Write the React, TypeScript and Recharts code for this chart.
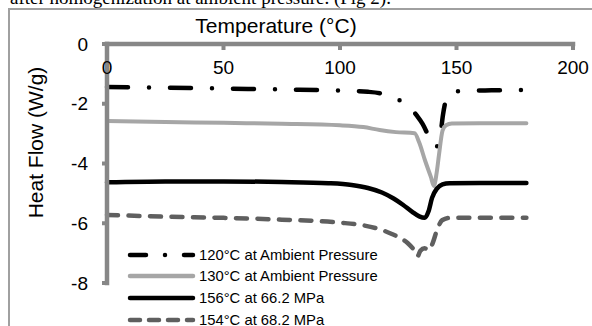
import { LineChart, Line, XAxis, YAxis, Legend, Label } from "recharts";

const font = "'Liberation Sans', Arial, sans-serif";
const axisGray = "#878787";

const xTicks = [0, 50, 100, 150, 200];
const yTicks = [0, -2, -4, -6, -8];

// [temperature °C, heat flow W/g]
const ambient120: [number, number][] = [
  [0, -1.44], [25, -1.46], [50, -1.49], [75, -1.52], [100, -1.56], [112, -1.6],
  [118, -1.66], [122, -1.75], [126, -1.9], [130, -2.12], [133, -2.4], [135.5, -2.68],
  [139, -3.24], [141, -3.47], [143, -3.08], [144.2, -2.37], [145.2, -1.95],
  [146.5, -1.72], [149, -1.61], [153, -1.57], [165, -1.55], [180, -1.54],
];

const ambient130: [number, number][] = [
  [0, -2.58], [25, -2.61], [50, -2.64], [75, -2.67], [100, -2.72], [110, -2.78],
  [117, -2.88], [124, -2.95], [132, -2.99], [134, -3.3], [136.5, -3.9], [139, -4.45],
  [140.3, -4.75], [141.5, -4.3], [142.5, -3.7], [144, -2.9], [145.5, -2.72],
  [148, -2.66], [160, -2.65], [180, -2.65],
];

const mpa662: [number, number][] = [
  [0, -4.63], [25, -4.6], [50, -4.6], [75, -4.62], [95, -4.66], [105, -4.72],
  [112, -4.82], [118, -4.97], [123, -5.17], [127, -5.38], [131, -5.62], [134, -5.77],
  [136.3, -5.82], [138, -5.6], [139.5, -5.15], [141.5, -4.85], [144, -4.7],
  [147, -4.66], [160, -4.65], [180, -4.65],
];

const mpa682: [number, number][] = [
  [0, -5.72], [25, -5.78], [50, -5.82], [75, -5.88], [100, -5.98], [110, -6.07],
  [117, -6.2], [122, -6.35], [126, -6.5], [129, -6.66], [131.3, -6.85], [133.3, -7.1],
  [134.5, -6.92], [136.3, -6.84], [138.3, -6.9], [139.5, -6.72], [142, -6.15],
  [143.8, -5.9], [147, -5.82], [160, -5.82], [180, -5.82],
];

const toPoints = (rows: [number, number][]) => rows.map(([t, hf]) => ({ t, hf }));

const series = [
  { name: "120°C at Ambient Pressure", rows: ambient120, color: "#000", width: 4.5, dash: "21 21 0 21", legendDash: "16 19 0 19" },
  { name: "130°C at Ambient Pressure", rows: ambient130, color: "#a6a6a6", width: 4, dash: undefined, legendDash: undefined },
  { name: "156°C at 66.2 MPa", rows: mpa662, color: "#000", width: 4.5, dash: undefined, legendDash: undefined },
  { name: "154°C at 68.2 MPa", rows: mpa682, color: "#5f5f5f", width: 4.5, dash: "11 10.5", legendDash: "10 9" },
];

const renderLegend = () => (
  <div>
    {series.map((s) => (
      <div key={s.name} style={{ display: "flex", alignItems: "center", height: 21.6 }}>
        <svg width={73} height={10}>
          <line x1={4} x2={67} y1={5} y2={5} stroke={s.color} strokeWidth={4.5}
            strokeDasharray={s.legendDash} strokeLinecap="round" />
        </svg>
        <span style={{ fontSize: 14.8, fontFamily: font, color: "#000", whiteSpace: "nowrap" }}>{s.name}</span>
      </div>
    ))}
  </div>
);

export default function App() {
  return (
    <div style={{ position: "absolute", left: 0, top: 0, width: 592, height: 326, overflow: "hidden", background: "#fff" }}>
      <div style={{ position: "absolute", left: 10, top: -11, fontFamily: "'Liberation Serif', 'Times New Roman', serif", fontSize: 19, lineHeight: "18px", whiteSpace: "nowrap", color: "#000" }}>
        after homogenization at ambient pressure. (Fig 2).
      </div>
      <div style={{ position: "absolute", left: 8, top: 8, width: 700, height: 400, borderTop: "2px solid #a0a0a0", borderLeft: "2px solid #a0a0a0" }} />
      <div style={{ position: "absolute", left: 0, top: 0 }}>
        <LineChart width={592} height={326} margin={{ top: 44, right: 19, bottom: 43, left: 0 }}>
          <XAxis
            type="number"
            dataKey="t"
            domain={[0, 200]}
            ticks={xTicks}
            interval={0}
            orientation="top"
            mirror
            axisLine={{ stroke: axisGray, strokeWidth: 4.5, strokeLinecap: "square" }}
            tickLine={{ stroke: axisGray, strokeWidth: 4 }}
            tickSize={6}
            tickMargin={11}
            tick={{ fill: "#000", fontSize: 19, fontFamily: font }}
          >
            <Label
              content={({ viewBox }: any) => (
                <text x={viewBox.x + viewBox.width / 2 - 64} y={viewBox.y - 11} textAnchor="middle"
                  fontSize={21} fontFamily={font} fill="#000">
                  Temperature (°C)
                </text>
              )}
            />
          </XAxis>
          <YAxis
            type="number"
            domain={[-8, 0]}
            ticks={yTicks}
            interval={0}
            width={107}
            axisLine={{ stroke: axisGray, strokeWidth: 4.5, strokeLinecap: "square" }}
            tickLine={{ stroke: axisGray, strokeWidth: 4 }}
            tickSize={5}
            tickMargin={14}
            tick={{ fill: "#000", fontSize: 19, fontFamily: font }}
          >
            <Label
              content={({ viewBox }: any) => {
                const cx = viewBox.x + 43;
                const cy = viewBox.y + viewBox.height / 2 - 21;
                return (
                  <text x={cx} y={cy} textAnchor="middle" transform={`rotate(-90 ${cx} ${cy})`}
                    fontSize={21} fontFamily={font} fill="#000">
                    Heat Flow (W/g)
                  </text>
                );
              }}
            />
          </YAxis>
          {series.map((s) => (
            <Line
              key={s.name}
              data={toPoints(s.rows)}
              dataKey="hf"
              name={s.name}
              type="monotone"
              stroke={s.color}
              strokeWidth={s.width}
              strokeDasharray={s.dash}
              strokeLinecap="round"
              dot={false}
              activeDot={false}
              isAnimationActive={false}
            />
          ))}
          <Legend
            layout="vertical"
            align="center"
            verticalAlign="middle"
            content={renderLegend}
            wrapperStyle={{ position: "absolute", left: 126, top: 244, width: 320 }}
          />
        </LineChart>
      </div>
    </div>
  );
}
